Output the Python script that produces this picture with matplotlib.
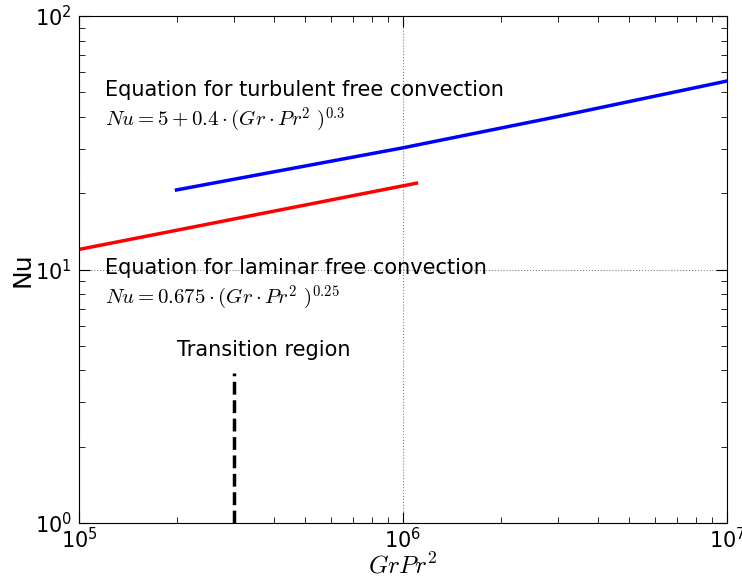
import matplotlib
matplotlib.use('Agg')
import matplotlib.pyplot as plt

# values
turb_x = [2e5, 1e6, 3e6, 1e7]
turb_nu = [20.6, 30.2, 40.1, 55.4]

lam_x = [1e5, 1.1e6]
lam_nu = [12.0, 21.9]

trans_x = [3e5, 3e5]
trans_nu = [1.0, 3.9]

plt.rcParams['mathtext.fontset'] = 'cm'
plt.rcParams['xtick.direction'] = 'in'
plt.rcParams['ytick.direction'] = 'in'

fig = plt.figure(figsize=(7.42, 5.83), dpi=100)
ax = fig.add_axes([79/742, 1 - 523/583, 648/742, 507/583])

ax.plot(turb_x, turb_nu, color='blue', lw=2.5)
ax.plot(lam_x, lam_nu, color='red', lw=2.5)
ax.plot(trans_x, trans_nu, color='black', lw=2.5, ls='--')

ax.set_xscale('log')
ax.set_yscale('log')
ax.set_xlim(1e5, 1e7)
ax.set_ylim(1, 100)

ax.grid(True, which='major', ls=':', color='gray', lw=0.8)
ax.tick_params(which='both', top=True, right=True, labelsize=15)
ax.tick_params(axis='x', pad=3)
ax.tick_params(axis='y', pad=5)
ax.tick_params(which='major', length=8)
ax.tick_params(which='minor', length=4)

ax.set_xlabel(r'$GrPr^2$', fontsize=18, labelpad=0)
ax.set_ylabel('Nu', fontsize=18, labelpad=0)

ax.text(1.2e5, 51, 'Equation for turbulent free convection', fontsize=15, va='center')
ax.text(1.2e5, 39, r'$Nu = 5 + 0.4\cdot(Gr\cdot Pr^2\ )^{0.3}$', fontsize=15, va='center')
ax.text(1.2e5, 10.1, 'Equation for laminar free convection', fontsize=15, va='center')
ax.text(1.2e5, 7.7, r'$Nu = 0.675\cdot(Gr\cdot Pr^2\ )^{0.25}$', fontsize=15, va='center')
ax.text(2e5, 4.8, 'Transition region', fontsize=15, va='center')

fig.savefig('out.png', dpi=100, facecolor='white')
